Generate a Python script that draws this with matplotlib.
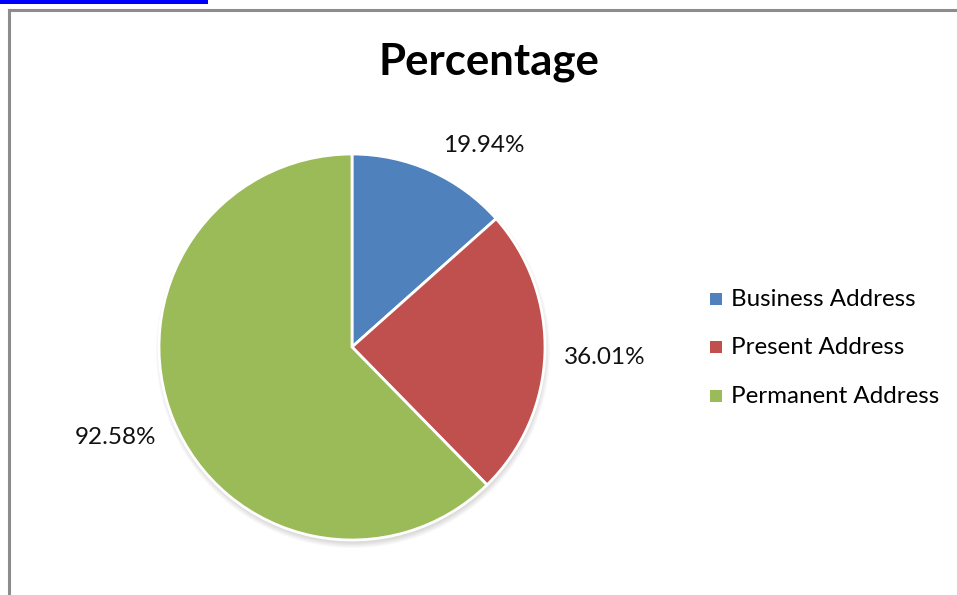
import matplotlib.pyplot as plt
from matplotlib.patches import Rectangle, Ellipse
from matplotlib.lines import Line2D

labels = ['Business Address', 'Present Address', 'Permanent Address']
values = [19.94, 36.01, 92.58]
value_text = ['19.94%', '36.01%', '92.58%']
colors = ['#4F81BD', '#C0504D', '#9BBB59']

W, H = 957, 595
plt.rcParams['font.family'] = ['Lato', 'DejaVu Sans']

fig = plt.figure(figsize=(W / 100, H / 100), dpi=100)
ax = fig.add_axes([0, 0, 1, 1])

# pixel coordinates, y measured from the bottom
cx, cy, r = 352, H - 347, 193

# soft shadow under the pie
for i in range(6):
    ax.add_patch(Ellipse((cx + 1, cy - 4), 2 * r + 8 - i * 2, 2 * r + 8 - i * 2,
                         color='black', alpha=0.025, lw=0, zorder=0))

wedges, _ = ax.pie(values, colors=colors, startangle=90, counterclock=False,
                   center=(cx, cy), radius=r,
                   wedgeprops=dict(edgecolor='white', linewidth=2))
ax.set_xlim(0, W)
ax.set_ylim(0, H)
ax.set_aspect('auto')
ax.axis('off')

# value labels around the pie
label_pos = [(484, H - 146), (605, H - 358), (115, H - 438)]
for (x, y), t in zip(label_pos, value_text):
    ax.text(x, y, t, fontsize=17.5, ha='center', va='center', color='#111111')

ax.text(489, H - 62, 'Percentage', fontsize=31.5, fontweight='bold',
        ha='center', va='center', color='black')

# legend
for i, (lab, c) in enumerate(zip(labels, colors)):
    y = H - (299.5 + 48.5 * i)
    ax.add_patch(Rectangle((710, y - 5), 12, 12, color=c, lw=0))
    ax.text(731, y, lab, fontsize=17.4, ha='left', va='center', color='black')

# chart frame and link bar
ax.add_line(Line2D([9, 9], [0, H - 10], color='#8c8c8c', lw=2.2))
ax.add_line(Line2D([9, W], [H - 10, H - 10], color='#8c8c8c', lw=2.2))
ax.add_patch(Rectangle((0, H - 4), 208, 4, color='#0000FF', lw=0))

fig.savefig('out.png', dpi=100)
